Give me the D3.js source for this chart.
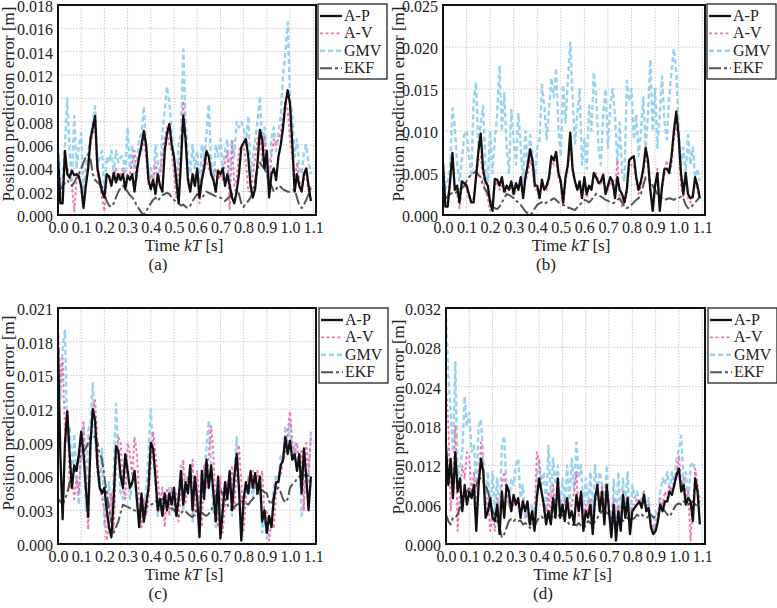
<!DOCTYPE html>
<html>
<head>
<meta charset="utf-8">
<script src="https://cdn.jsdelivr.net/npm/d3@7"></script>
<style>
  body { margin: 0; background: #fff; }
  svg { display: block; font-family: "Liberation Serif", "Times New Roman", serif; }
</style>
</head>
<body>
<div id="chart"></div>
<script>
// Set up the SVG container
var width = 777;
var height = 608;

// sampling step of every series [s]
var dt = 0.01;
var xTicks = [0, 0.1, 0.2, 0.3, 0.4, 0.5, 0.6, 0.7, 0.8, 0.9, 1.0, 1.1];
var seriesNames = ["A-P", "A-V", "GMV", "EKF"];

// all errors below are in mm (axis labels are shown in m)
// (a)
var yTicksA = [0, 2, 4, 6, 8, 10, 12, 14, 16, 18];
var apA = [
  5.2, 1.0, 1.0, 5.5, 3.5, 3.2, 3.8, 3.4, 3.5, 3.3,
  2.5, 0.6, 2.5, 4.0, 6.5, 7.5, 8.5, 4.0, 3.0, 2.0,
  1.5, 3.5, 3.3, 2.5, 3.6, 2.8, 3.5, 3.0, 3.5, 2.2,
  3.4, 3.0, 3.5, 2.0, 3.8, 5.0, 6.0, 7.2, 6.0, 3.0,
  2.2, 3.0, 1.8, 3.5, 2.5, 2.0, 5.5, 7.0, 7.8, 6.0,
  5.0, 3.0, 1.0, 4.5, 8.5, 6.5, 3.0, 2.0, 3.5, 2.5,
  4.0, 1.5, 3.0, 4.0, 5.5, 5.0, 3.5, 3.0, 2.0, 3.8,
  3.5, 4.0, 2.5, 3.5, 2.5, 1.5, 1.0, 2.0, 3.5, 5.8,
  6.2, 6.5, 5.0, 2.5, 1.5, 2.3, 4.5, 7.3, 6.5, 4.0,
  5.5, 1.5, 3.5, 4.0, 3.0, 5.0, 6.0, 7.5, 9.5, 10.7,
  9.5, 6.0, 2.0, 3.5, 2.5, 2.0, 3.5, 4.0, 2.5, 1.2
];
var avA = [
  4.5, 1.5, 2.0, 5.0, 4.0, 3.5, 2.5, 0.3, 3.0, 3.5,
  2.0, 1.5, 3.0, 4.5, 6.0, 7.0, 7.8, 3.5, 2.5, 1.5,
  0.3, 3.0, 3.5, 2.8, 3.0, 4.0, 3.0, 3.5, 4.0, 2.5,
  3.0, 3.5, 4.5, 5.5, 3.0, 5.0, 5.5, 6.5, 5.0, 2.5,
  3.5, 2.5, 4.5, 3.0, 3.5, 5.0, 6.5, 7.5, 6.0, 5.5,
  3.5, 1.5, 4.0, 5.5, 9.8, 6.0, 3.5, 2.5, 3.0, 3.5,
  3.5, 1.0, 3.5, 5.0, 4.5, 4.0, 3.5, 3.0, 4.0, 3.0,
  3.5, 3.0, 4.5, 5.5, 0.5, 6.3, 2.5, 3.0, 5.5, 6.0,
  6.0, 4.5, 2.0, 2.0, 3.5, 5.0, 6.5, 6.8, 4.5, 6.8,
  3.5, 2.5, 5.0, 6.5, 6.0, 6.5, 7.0, 8.5, 9.8, 9.0,
  6.5, 5.0, 2.5, 4.5, 3.0, 2.0, 3.0, 3.5, 2.0, 2.5
];
var gmvA = [
  6.0, 2.5, 3.0, 6.0, 10.0, 5.5, 3.0, 8.5, 4.0, 6.0,
  7.0, 2.0, 4.0, 5.5, 6.5, 8.0, 9.3, 4.0, 5.0, 5.5,
  2.0, 5.0, 4.5, 5.5, 3.5, 5.5, 4.5, 5.0, 5.0, 3.5,
  7.5, 4.0, 6.0, 3.5, 4.5, 6.5, 7.0, 9.3, 5.5, 3.5,
  4.0, 3.0, 6.0, 4.5, 3.5, 7.0, 9.0, 11.0, 9.7, 7.0,
  4.5, 2.5, 6.0, 7.0, 14.2, 8.0, 5.0, 3.5, 6.0, 4.0,
  5.5, 2.0, 6.0, 5.0, 7.0, 9.5, 4.5, 3.0, 6.0, 5.0,
  6.5, 4.0, 5.5, 6.5, 3.0, 6.5, 5.0, 8.0, 7.5, 8.0,
  7.5, 6.0, 8.5, 3.5, 5.0, 6.5, 8.0, 10.2, 6.0, 7.5,
  5.0, 3.0, 6.5, 7.5, 5.5, 7.0, 8.5, 12.0, 14.0, 16.5,
  10.0, 8.5, 5.0, 6.5, 4.0, 3.5, 5.5, 6.0, 4.5, 3.5
];
var ekfA = [
  2.0, 2.2, 2.5, 2.8, 3.0, 2.7, 2.5, 2.8, 3.2, 3.5,
  4.0, 4.5, 5.0, 5.2, 4.8, 3.5, 3.0, 2.8, 2.6, 2.4,
  1.8, 1.2, 0.8, 0.7, 1.0, 1.5, 2.0, 2.3, 2.5, 2.3,
  2.0, 1.7, 1.5, 1.2, 0.8, 0.5, 0.2, 0.0, 0.3, 0.7,
  1.0, 1.3, 1.5, 1.2, 1.5, 1.7, 1.8, 1.9, 1.8, 1.5,
  1.3, 1.1, 1.0, 0.8, 0.9, 0.7, 0.6, 0.8, 1.2, 1.5,
  1.8, 1.6, 1.5, 1.7, 2.0, 1.9, 1.8, 1.7, 1.6, 1.5,
  1.5, 1.3, 1.2, 1.4, 1.6, 1.8, 2.0, 2.2, 1.8, 1.0,
  0.7, 1.0, 1.2, 1.5, 2.0, 3.0, 4.0, 4.5, 4.2, 4.0,
  3.5, 3.0, 2.5, 2.0, 2.2, 2.5, 2.4, 2.2, 2.1, 2.0,
  2.0, 2.1, 2.2, 1.5, 0.8, 0.6, 0.9, 1.3, 1.8, 2.3
];

// (b)
var yTicksB = [0, 5, 10, 15, 20, 25];
var apB = [
  6.2, 1.0, 1.0, 4.0, 7.4, 3.0, 3.5, 1.5, 4.0, 3.8,
  3.5, 2.5, 1.5, 1.5, 4.5, 7.5, 9.7, 5.5, 4.0, 3.5,
  1.5, 0.5, 4.3, 4.2, 3.5, 4.5, 2.8, 3.5, 3.0, 4.0,
  2.5, 3.8, 3.0, 4.5, 2.0, 4.5, 6.0, 7.8, 6.5, 3.5,
  3.5, 2.0, 4.2, 3.0, 3.5, 4.5, 7.0, 6.5, 7.5, 5.0,
  4.0, 1.5, 4.5, 6.0, 9.8, 5.5, 4.0, 3.0, 4.0, 2.0,
  4.5, 2.5, 3.5, 3.0, 5.0, 4.5, 3.8, 4.0, 4.8, 2.5,
  3.5, 4.5, 4.0, 2.0, 4.5, 3.0, 2.5, 1.5, 3.0, 6.5,
  6.8, 7.0, 4.5, 3.0, 4.0, 5.5, 8.0, 6.5, 3.0, 0.5,
  3.5, 5.0, 0.5, 3.5, 5.5, 5.5, 5.0, 7.0, 10.0, 12.3,
  9.5, 5.0, 2.5, 5.0, 2.5, 2.0, 2.2, 4.5, 3.5, 2.0
];
var avB = [
  5.0, 1.5, 2.0, 4.0, 7.0, 3.5, 2.5, 0.8, 3.5, 3.5,
  3.0, 2.0, 1.5, 2.0, 4.0, 6.5, 7.0, 4.5, 3.0, 2.0,
  0.5, 1.5, 3.5, 4.0, 3.0, 3.5, 2.5, 3.0, 3.0, 3.5,
  2.0, 3.5, 3.5, 4.0, 2.5, 4.0, 5.0, 6.5, 5.5, 3.0,
  3.0, 2.5, 3.5, 3.0, 3.0, 4.0, 6.5, 6.0, 6.5, 4.5,
  3.5, 1.0, 4.0, 5.5, 9.5, 5.0, 4.0, 3.0, 3.5, 2.5,
  4.0, 2.0, 3.5, 3.0, 4.5, 5.0, 4.0, 3.5, 4.5, 2.5,
  3.0, 4.0, 3.5, 3.0, 6.5, 2.0, 1.0, 1.5, 2.5, 5.5,
  6.0, 6.0, 4.0, 2.5, 3.5, 5.0, 7.0, 6.0, 3.0, 1.0,
  3.0, 5.5, 1.0, 3.0, 5.0, 6.5, 5.0, 6.0, 9.0, 10.5,
  9.0, 3.5, 2.0, 4.5, 2.0, 1.5, 2.0, 4.0, 3.0, 2.0
];
var gmvB = [
  5.0, 3.0, 4.0, 5.5, 12.7, 10.5, 6.0, 4.0, 6.5, 9.5,
  10.0, 7.0, 4.5, 13.5, 15.8, 8.0, 11.0, 13.0, 6.0, 4.0,
  10.0, 5.0, 9.0, 12.0, 17.8, 10.0, 14.5, 8.0, 5.0, 12.5,
  9.0, 6.0, 12.0, 8.0, 4.0, 10.0, 5.5, 9.5, 6.5, 4.5,
  8.0, 9.0, 15.5, 13.0, 9.0, 12.5, 16.3, 14.0, 17.5, 10.0,
  7.0, 15.5, 11.0, 16.0, 20.5, 14.0, 8.5, 12.0, 15.0, 6.0,
  9.0, 5.5, 13.0, 10.0, 17.0, 14.0, 8.0, 6.0, 12.0, 15.0,
  8.0, 13.0, 15.0, 12.0, 6.0, 11.0, 5.0, 4.0, 16.0, 13.5,
  15.0, 9.0, 12.0, 7.0, 10.0, 14.0, 8.0, 12.0, 18.5, 10.0,
  15.0, 8.0, 12.0, 16.5, 11.0, 9.0, 14.0, 17.0, 19.8, 17.0,
  10.5, 6.0, 8.0, 5.0, 9.5, 6.0, 8.0, 4.5, 5.5, 4.0
];
var ekfB = [
  1.8, 2.0, 2.2, 2.5, 2.6, 2.5, 2.8, 3.0, 3.2, 3.5,
  4.0, 4.5, 4.8, 5.0, 5.2, 4.8, 4.5, 3.5, 3.0, 2.5,
  1.8, 1.0, 0.8, 0.7, 1.0, 1.5, 2.0, 2.5, 2.4, 2.2,
  2.0, 1.7, 1.5, 1.2, 0.8, 0.4, 0.2, 0.0, 0.3, 0.8,
  1.2, 1.4, 1.5, 1.3, 1.5, 1.6, 1.8, 2.0, 1.8, 1.5,
  1.3, 1.2, 1.0, 0.9, 0.8, 0.7, 0.6, 0.9, 1.2, 1.5,
  1.8, 1.7, 1.5, 1.8, 2.2, 2.5, 2.4, 2.2, 2.0, 1.8,
  1.7, 1.5, 1.4, 1.5, 1.8, 2.0, 1.5, 1.0, 0.8, 1.0,
  1.2, 1.5, 1.8, 2.0, 2.5, 3.5, 4.5, 4.3, 4.0, 3.5,
  3.0, 2.5, 2.2, 2.0, 1.8, 1.9, 2.0, 1.9, 1.8, 2.0,
  2.0, 2.2, 2.0, 1.2, 0.8, 0.8, 1.2, 1.5, 1.8, 2.2
];

// (c)
var yTicksC = [0, 3, 6, 9, 12, 15, 18, 21];
var apC = [
  17.5, 8.0, 2.2, 9.0, 11.8, 8.0, 5.0, 7.0, 6.5, 8.0,
  10.0, 8.0, 5.0, 2.4, 9.0, 12.0, 11.0, 7.0, 5.0, 4.5,
  5.0, 3.0, 1.5, 0.6, 4.0, 8.7, 8.3, 6.0, 5.0, 8.0,
  6.5, 5.0, 5.5, 6.5, 4.0, 1.5, 4.5, 2.0, 3.5, 5.0,
  9.0, 8.5, 6.0, 3.0, 4.0, 2.5, 4.5, 3.0, 4.5, 3.5,
  5.0, 2.5, 4.0, 6.5, 3.5, 5.5, 4.5, 7.0, 3.0, 6.0,
  4.0, 0.6, 6.5, 4.0, 7.5, 5.0, 7.0, 4.5, 2.0, 6.0,
  0.5, 3.0, 5.5, 4.0, 6.5, 3.0, 6.0, 8.0, 5.0, 0.3,
  4.0, 5.5, 4.5, 6.5, 5.0, 6.3, 4.5, 6.0, 2.0, 3.0,
  1.0, 2.5, 1.5, 4.0, 5.5, 5.5, 7.0, 7.5, 9.5, 8.0,
  9.2, 7.5, 8.0, 6.5, 8.0, 4.5, 8.5, 6.0, 3.0, 6.0
];
var avC = [
  19.0, 14.0, 16.5, 10.0, 12.0, 5.0, 6.0, 4.0, 6.0, 4.5,
  9.0, 11.0, 6.0, 1.3, 8.0, 12.0, 12.8, 9.0, 5.0, 4.0,
  3.0, 0.3, 2.0, 4.5, 1.0, 7.0, 9.5, 9.0, 5.0, 4.0,
  9.0, 8.0, 6.0, 9.5, 8.0, 4.0, 1.5, 4.0, 2.5, 4.0,
  7.0, 10.0, 8.0, 6.0, 3.0, 5.0, 1.5, 5.0, 2.5, 5.0,
  3.5, 4.5, 2.0, 5.0, 7.5, 3.5, 6.0, 5.0, 7.5, 2.5,
  6.5, 4.0, 1.5, 7.0, 5.0, 8.0, 10.5, 8.0, 3.0, 1.5,
  6.0, 1.0, 3.5, 5.5, 4.5, 7.0, 3.0, 6.5, 8.8, 5.5,
  1.0, 4.0, 6.0, 5.0, 6.5, 5.0, 6.5, 5.0, 6.5, 2.5,
  3.0, 0.3, 2.0, 1.5, 4.5, 6.0, 6.0, 7.5, 8.0, 10.0,
  11.8, 9.0, 8.0, 9.0, 7.0, 8.5, 3.0, 9.0, 6.5, 9.5
];
var gmvC = [
  19.5, 13.0, 17.5, 19.0, 9.0, 10.5, 5.5, 9.8, 6.0, 3.5,
  9.0, 10.5, 3.0, 10.0, 11.0, 14.3, 9.0, 6.5, 5.0, 8.5,
  1.5, 3.0, 5.5, 2.0, 6.0, 12.5, 8.0, 4.5, 4.0, 8.0,
  7.0, 4.0, 5.5, 6.5, 3.5, 2.0, 4.0, 2.0, 5.0, 8.0,
  12.0, 7.5, 5.5, 2.5, 4.5, 2.5, 4.0, 3.0, 5.0, 3.0,
  4.0, 2.5, 4.5, 7.0, 3.0, 6.0, 5.5, 7.0, 2.0, 6.0,
  4.5, 1.5, 6.5, 6.0, 8.5, 11.0, 7.0, 3.0, 1.5, 5.5,
  0.8, 3.0, 5.0, 4.5, 6.0, 2.5, 6.0, 9.5, 5.0, 0.5,
  3.5, 5.5, 4.5, 6.0, 4.0, 6.0, 4.5, 6.0, 1.0, 2.5,
  0.5, 2.0, 1.5, 5.0, 6.0, 5.5, 8.0, 7.5, 10.5, 8.5,
  11.0, 7.5, 9.0, 7.0, 8.0, 2.5, 4.0, 6.5, 5.5, 10.0
];
var ekfC = [
  4.0, 3.8, 3.5, 4.0, 4.5, 5.5, 6.0, 6.5, 7.0, 7.5,
  8.0, 8.3, 8.5, 9.0, 9.5, 9.6, 9.5, 9.0, 8.0, 7.5,
  6.0, 4.5, 3.0, 2.0, 1.0, 1.5, 2.0, 2.8, 3.5, 3.4,
  3.3, 3.2, 3.0, 3.0, 2.9, 2.8, 3.0, 3.2, 3.3, 3.5,
  3.5, 3.6, 3.8, 3.7, 3.9, 4.0, 3.8, 3.6, 3.5, 3.2,
  3.0, 2.8, 2.5, 2.7, 3.0, 2.9, 2.7, 2.5, 2.4, 2.8,
  3.0, 2.9, 2.8, 2.6, 2.5, 2.7, 3.0, 3.5, 4.2, 5.0,
  4.8, 4.5, 4.0, 3.5, 3.2, 3.0, 3.3, 3.5, 3.6, 3.8,
  3.8, 3.6, 3.5, 3.8, 4.0, 4.3, 4.5, 4.7, 4.8, 4.6,
  4.5, 3.8, 3.5, 4.2, 4.8, 5.0, 4.6, 4.0, 3.7, 4.0,
  5.0, 5.3, 5.5, 5.8, 6.0, 6.0, 6.1, 6.2, 6.0, 5.5
];

// (d) - tick marks of this panel are not evenly valued
var yTicksD = [0, 6, 12, 18, 24, 28, 32];
var apD = [
  15.0, 9.0, 13.0, 7.0, 14.0, 8.0, 10.0, 5.0, 9.0, 6.0,
  8.0, 7.0, 9.0, 2.0, 9.0, 13.0, 11.0, 4.0, 5.0, 7.0,
  4.0, 3.5, 6.0, 1.5, 8.0, 4.0, 9.0, 8.0, 5.0, 7.5,
  6.0, 7.0, 4.0, 6.5, 5.0, 6.5, 3.0, 5.0, 2.0, 7.0,
  10.0, 8.0, 6.0, 3.0, 5.0, 3.0, 7.0, 4.0, 10.0, 4.0,
  6.0, 3.5, 7.0, 4.0, 5.0, 3.0, 7.5, 5.0, 8.0, 2.0,
  5.0, 4.0, 6.0, 1.5, 7.0, 9.0, 5.0, 8.0, 3.0, 9.0,
  5.0, 1.0, 6.0, 0.5, 5.0, 2.0, 7.5, 4.0, 7.0, 1.5,
  5.0, 5.5, 6.0, 6.5, 5.5, 7.5, 5.0, 5.5, 2.5, 1.5,
  2.0, 3.5, 6.0, 5.0, 6.5, 6.5, 8.0, 7.5, 9.0, 10.5,
  11.5, 8.0, 9.0, 6.0, 7.0, 6.5, 3.5, 10.0, 8.0, 3.0
];
var avD = [
  24.5, 18.0, 5.0, 10.0, 18.0, 2.0, 8.0, 12.0, 10.0, 14.0,
  13.5, 7.0, 11.0, 5.0, 10.0, 15.5, 12.0, 5.0, 7.0, 2.0,
  5.0, 2.0, 7.0, 3.0, 9.0, 11.0, 8.0, 6.0, 5.0, 6.0,
  7.0, 6.0, 4.0, 7.0, 5.0, 4.0, 3.0, 3.0, 4.0, 14.0,
  12.5, 8.0, 5.0, 3.0, 8.0, 4.0, 9.0, 5.0, 10.0, 6.0,
  5.0, 7.0, 6.0, 5.0, 6.0, 8.0, 11.0, 4.0, 8.0, 3.0,
  6.0, 5.0, 7.0, 3.0, 6.0, 8.0, 6.0, 9.0, 4.0, 8.0,
  6.0, 1.5, 7.0, 2.0, 6.0, 3.0, 8.0, 5.0, 7.5, 2.5,
  6.0, 6.0, 7.0, 6.5, 6.0, 8.0, 5.5, 6.0, 3.5, 2.0,
  3.0, 4.5, 7.0, 6.0, 8.0, 7.0, 9.0, 8.0, 10.0, 11.0,
  13.5, 9.0, 10.0, 7.0, 8.0, 0.5, 5.0, 11.5, 9.0, 6.0
];
var gmvD = [
  31.0, 25.0, 20.0, 14.0, 26.5, 10.0, 12.0, 14.0, 22.5, 18.0,
  20.0, 14.0, 15.0, 8.0, 18.0, 19.0, 13.0, 6.0, 11.0, 5.0,
  11.0, 5.0, 10.0, 4.0, 15.0, 16.5, 8.0, 6.0, 10.0, 9.0,
  12.0, 13.0, 7.0, 9.0, 4.0, 5.0, 3.0, 6.0, 2.0, 10.0,
  13.0, 9.0, 11.0, 5.0, 15.0, 7.0, 13.0, 9.0, 12.0, 5.0,
  10.0, 6.0, 12.0, 6.0, 13.0, 8.0, 15.5, 10.0, 12.0, 5.0,
  10.0, 6.0, 11.0, 4.0, 12.0, 8.0, 11.0, 9.0, 6.0, 12.0,
  5.0, 2.0, 10.0, 3.0, 11.0, 4.0, 10.0, 6.0, 11.0, 3.0,
  9.0, 7.0, 8.0, 6.0, 7.0, 8.0, 5.0, 7.0, 3.0, 2.0,
  5.0, 4.0, 8.0, 10.0, 9.0, 11.0, 8.0, 11.0, 9.0, 13.0,
  14.5, 16.5, 9.0, 11.0, 6.0, 12.0, 12.5, 11.0, 8.0, 7.0
];
var ekfD = [
  4.5, 3.5, 3.0, 4.0, 4.0, 4.5, 5.5, 7.0, 7.5, 8.0,
  8.5, 8.0, 8.5, 9.0, 10.0, 10.0, 9.5, 9.0, 8.0, 6.5,
  5.0, 4.5, 3.5, 2.5, 1.0, 1.5, 2.5, 3.5, 3.8, 3.5,
  3.8, 3.5, 3.6, 3.0, 3.2, 3.0, 2.5, 2.2, 2.5, 3.5,
  4.0, 4.2, 3.8, 4.5, 4.0, 4.2, 3.8, 4.5, 4.5, 4.2,
  4.5, 3.8, 3.5, 3.0, 2.8, 3.0, 2.8, 3.2, 2.8, 2.5,
  2.8, 3.5, 3.2, 3.0, 3.5, 4.0, 4.5, 5.0, 5.2, 4.8,
  4.5, 4.0, 3.5, 3.3, 3.5, 3.8, 3.5, 3.8, 4.0, 3.5,
  3.8, 4.0, 4.5, 4.2, 4.5, 4.2, 4.0, 4.2, 4.5, 4.0,
  4.3, 4.5, 5.0, 5.5, 5.0, 4.5, 4.2, 4.8, 5.5, 6.0,
  6.2, 6.0, 6.5, 6.3, 6.0, 6.2, 6.5, 6.0, 5.8, 5.5
];

var styles = {
  "A-P": { color: "#111111", width: 2.3, dash: null },
  "A-V": { color: "#f274b0", width: 1.9, dash: "3,2.5" },
  "GMV": { color: "#98d2ee", width: 2.4, dash: "5,3" },
  "EKF": { color: "#555555", width: 2, dash: "12,3,3,3" }
};
// drawing order (black on top)
var drawOrder = ["GMV", "A-V", "EKF", "A-P"];

var panels = [
  { cap: "(a)", ox: 0, x0: 58, x1: 316, y0: 5, y1: 215, labY: 104, capX: 158, legX: 318, legY: 4,
    yTicks: yTicksA, series: { "A-P": apA, "A-V": avA, "GMV": gmvA, "EKF": ekfA } },
  { cap: "(b)", ox: 390, x0: 443, x1: 705, y0: 5, y1: 215, labY: 104, capX: 546, legX: 707, legY: 4,
    yTicks: yTicksB, series: { "A-P": apB, "A-V": avB, "GMV": gmvB, "EKF": ekfB } },
  { cap: "(c)", ox: 0, x0: 58, x1: 316, y0: 308, y1: 544, labY: 413, capX: 158, legX: 319, legY: 308,
    yTicks: yTicksC, series: { "A-P": apC, "A-V": avC, "GMV": gmvC, "EKF": ekfC } },
  { cap: "(d)", ox: 390, x0: 446, x1: 705, y0: 308, y1: 544, labY: 417, capX: 543, legX: 708, legY: 308,
    yTicks: yTicksD, series: { "A-P": apD, "A-V": avD, "GMV": gmvD, "EKF": ekfD } }
];

var svg = d3
  .select("#chart")
  .append("svg")
  .attr("width", width)
  .attr("height", height);

panels.forEach(function (p, pi) {
  var g = svg.append("g");

  var x = d3.scaleLinear().domain([0, 1.112]).range([p.x0, p.x1]);
  var n = p.yTicks.length - 1;
  var y = d3
    .scaleLinear()
    .domain(p.yTicks)
    .range(p.yTicks.map(function (d, i) { return p.y1 - (i * (p.y1 - p.y0)) / n; }));

  // grid
  g.selectAll(".gy")
    .data(p.yTicks.slice(1, -1))
    .enter()
    .append("line")
    .attr("x1", p.x0).attr("x2", p.x1)
    .attr("y1", function (d) { return y(d); })
    .attr("y2", function (d) { return y(d); })
    .style("stroke", "#c8c8c8")
    .style("stroke-width", 1)
    .style("stroke-dasharray", "1.5,1.5");
  g.selectAll(".gx")
    .data(xTicks.slice(1))
    .enter()
    .append("line")
    .attr("y1", p.y0).attr("y2", p.y1)
    .attr("x1", function (d) { return x(d); })
    .attr("x2", function (d) { return x(d); })
    .style("stroke", "#c8c8c8")
    .style("stroke-width", 1)
    .style("stroke-dasharray", "1.5,1.5");

  // clip to the plot box
  svg.append("clipPath")
    .attr("id", "clip" + pi)
    .append("rect")
    .attr("x", p.x0).attr("y", p.y0)
    .attr("width", p.x1 - p.x0).attr("height", p.y1 - p.y0);

  var line = d3
    .line()
    .x(function (d, i) { return x(i * dt); })
    .y(function (d) { return y(d); });

  drawOrder.forEach(function (name) {
    var st = styles[name];
    g.append("path")
      .datum(p.series[name])
      .attr("clip-path", "url(#clip" + pi + ")")
      .attr("d", line)
      .style("fill", "none")
      .style("stroke", st.color)
      .style("stroke-width", st.width)
      .style("stroke-dasharray", st.dash)
      .style("stroke-linejoin", "round");
  });

  // frame
  g.append("rect")
    .attr("x", p.x0).attr("y", p.y0)
    .attr("width", p.x1 - p.x0).attr("height", p.y1 - p.y0)
    .style("fill", "none")
    .style("stroke", "#111")
    .style("stroke-width", 2);

  // axes
  var yAxis = d3
    .axisLeft(y)
    .tickValues(p.yTicks)
    .tickSize(0)
    .tickPadding(5)
    .tickFormat(function (d) { return d3.format(".3f")(d / 1000); });
  var ya = g.append("g").attr("transform", "translate(" + p.x0 + ",0)").call(yAxis);
  ya.select(".domain").remove();
  ya.selectAll("text")
    .attr("dy", "0.4em")
    .style("font-family", "Liberation Serif, serif")
    .style("font-size", "16px")
    .style("fill", "#222");

  var xAxis = d3
    .axisBottom(x)
    .tickValues(xTicks)
    .tickSize(0)
    .tickPadding(7)
    .tickFormat(d3.format(".1f"));
  var xa = g.append("g").attr("transform", "translate(0," + p.y1 + ")").call(xAxis);
  xa.select(".domain").remove();
  xa.selectAll("text")
    .style("font-family", "Liberation Serif, serif")
    .style("font-size", "16px")
    .style("fill", "#222");

  // titles
  var xt = g.append("text")
    .attr("x", (p.x0 + p.x1) / 2 - 3)
    .attr("y", p.y1 + 36)
    .attr("text-anchor", "middle")
    .style("font-size", "17px")
    .style("fill", "#222");
  xt.append("tspan").text("Time ");
  xt.append("tspan").style("font-style", "italic").text("kT");
  xt.append("tspan").text(" [s]");

  g.append("text")
    .attr("transform", "translate(" + (p.ox + 14) + "," + p.labY + ") rotate(-90)")
    .attr("text-anchor", "middle")
    .style("font-size", "17px")
    .style("fill", "#222")
    .text("Position prediction error [m]");

  g.append("text")
    .attr("x", p.capX)
    .attr("y", p.y1 + 55)
    .attr("text-anchor", "middle")
    .style("font-size", "17px")
    .style("fill", "#222")
    .text(p.cap);

  // legend
  var leg = g.append("g").attr("class", "legend");
  leg.append("rect")
    .attr("x", p.legX).attr("y", p.legY)
    .attr("width", 69).attr("height", 75)
    .style("fill", "#fff")
    .style("stroke", "#222")
    .style("stroke-width", 1.3);
  seriesNames.forEach(function (name, i) {
    var st = styles[name];
    var ly = p.legY + 12 + i * 17.4;
    leg.append("line")
      .attr("x1", p.legX + 2).attr("x2", p.legX + 24)
      .attr("y1", ly).attr("y2", ly)
      .style("stroke", st.color)
      .style("stroke-width", st.width)
      .style("stroke-dasharray", st.dash);
    leg.append("text")
      .attr("x", p.legX + 26)
      .attr("y", ly + 5)
      .style("font-size", "16px")
      .style("fill", "#222")
      .text(name);
  });
});
</script>
</body>
</html>
